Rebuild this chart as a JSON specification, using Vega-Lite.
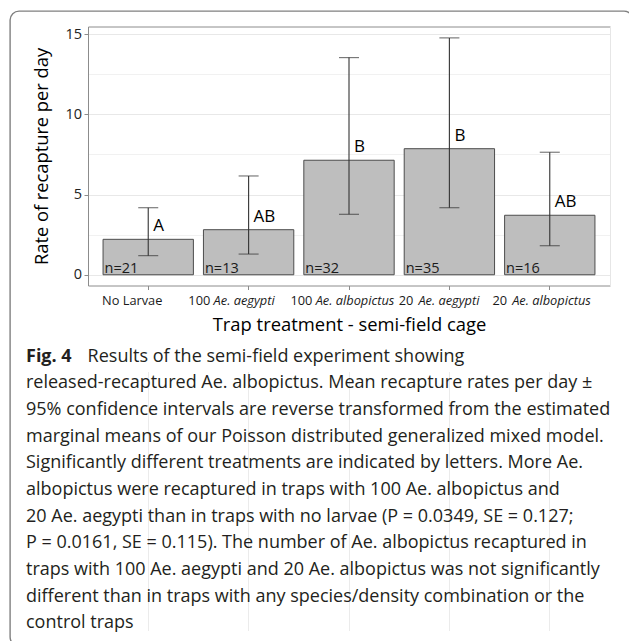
{
  "$schema": "https://vega.github.io/schema/vega-lite/v6.json",
  "width": 623,
  "height": 635,
  "autosize": {"type": "none"},
  "padding": {"left": 10, "top": 11, "right": -4, "bottom": -5},
  "background": "white",
  "config": {
    "view": {"stroke": "#808080", "strokeWidth": 1.4, "cornerRadius": 9, "fill": "white"},
    "font": "Open Sans",
    "axis": {"labelFont": "Open Sans", "titleFont": "Open Sans"}
  },
  "datasets": {
    "treatments": [
      {"treatment": "No Larvae", "mean": 2.21, "lower": 1.19, "upper": 4.18, "letter": "A", "n": "n=21"},
      {"treatment": "100 Ae. aegypti", "mean": 2.81, "lower": 1.29, "upper": 6.16, "letter": "AB", "n": "n=13"},
      {"treatment": "100 Ae. albopictus", "mean": 7.14, "lower": 3.77, "upper": 13.54, "letter": "B", "n": "n=32"},
      {"treatment": "20 Ae. aegypti", "mean": 7.86, "lower": 4.18, "upper": 14.77, "letter": "B", "n": "n=35"},
      {"treatment": "20 Ae. albopictus", "mean": 3.71, "lower": 1.81, "upper": 7.64, "letter": "AB", "n": "n=16"}
    ],
    "figlabel": [{"line": 1, "text": "Fig. 4"}],
    "caption": [
      {"line": 1, "text": "Results of the semi-field experiment showing"},
      {"line": 2, "text": "released-recaptured Ae. albopictus. Mean recapture rates per day ±"},
      {"line": 3, "text": "95% confidence intervals are reverse transformed from the estimated"},
      {"line": 4, "text": "marginal means of our Poisson distributed generalized mixed model."},
      {"line": 5, "text": "Significantly different treatments are indicated by letters. More Ae."},
      {"line": 6, "text": "albopictus were recaptured in traps with 100 Ae. albopictus and"},
      {"line": 7, "text": "20 Ae. aegypti than in traps with no larvae (P = 0.0349, SE = 0.127;"},
      {"line": 8, "text": "P = 0.0161, SE = 0.115). The number of Ae. albopictus recaptured in"},
      {"line": 9, "text": "traps with 100 Ae. aegypti and 20 Ae. albopictus was not significantly"},
      {"line": 10, "text": "different than in traps with any species/density combination or the"},
      {"line": 11, "text": "control traps"}
    ]
  },
  "layer": [
    {
      "data": {"name": "treatments"},
      "layer": [
        {
          "mark": {"type": "bar", "fill": "#bebebe", "stroke": "#4d4d4d", "strokeWidth": 1},
          "encoding": {
            "x": {
              "field": "treatment", "type": "nominal", "sort": null,
              "scale": {"range": [78, 600], "paddingInner": 0.1, "paddingOuter": 0.15},
              "axis": {
                "orient": "bottom", "offset": -360.5,
                "title": "Trap treatment - semi-field cage",
                "titleFontSize": 18.4, "titleFontWeight": "normal", "titleColor": "#000000", "titlePadding": 8,
                "domain": true, "domainColor": "#8c8c8c", "domainWidth": 1,
                "ticks": true, "tickColor": "#8c8c8c", "tickSize": 4, "tickWidth": 1,
                "bandPosition": 0.5,
                "grid": true, "gridColor": "#ebebeb", "gridWidth": 1,
                "labelExpr": "datum.value == 'No Larvae' ? datum.value : substring(datum.value, 0, indexof(datum.value, ' '))",
                "labelAlign": {"condition": {"test": "datum.value == 'No Larvae'", "value": "center"}, "value": "right"},
                "labelOffset": {"condition": [
                  {"test": "datum.value == 'No Larvae'", "value": -16},
                  {"test": "datum.value == '100 Ae. aegypti'", "value": -38.3},
                  {"test": "datum.value == '100 Ae. albopictus'", "value": -36.6},
                  {"test": "datum.value == '20 Ae. aegypti'", "value": -36}
                ], "value": -42.6},
                "labelFontSize": 12.8, "labelColor": "#1a1a1a", "labelPadding": 5, "labelAngle": 0,
                "labelOverlap": false, "labelBaseline": "top"
              }
            },
            "y": {
              "field": "mean", "type": "quantitative",
              "scale": {"domain": [-0.67, 15.48], "range": [274.5, 15.5], "nice": false, "zero": false},
              "axis": {
                "orient": "left", "offset": -78, "values": [0, 5, 10, 15],
                "title": "Rate of recapture per day",
                "titleFontSize": 18.3, "titleFontWeight": "normal", "titleColor": "#000000", "titlePadding": 13,
                "domain": true, "domainColor": "#8c8c8c", "domainWidth": 1,
                "ticks": true, "tickColor": "#8c8c8c", "tickSize": 4,
                "grid": true, "gridColor": "#e8e8e8", "gridWidth": 1,
                "labelFontSize": 14.5, "labelColor": "#222222", "labelPadding": 2.5
              }
            }
          }
        },
        {
          "mark": {"type": "rule", "color": "#333333", "strokeWidth": 1.1},
          "encoding": {
            "x": {
              "field": "treatment", "type": "nominal", "sort": null,
              "axis": {
                "orient": "bottom", "offset": -360.5, "title": null,
                "domain": false, "ticks": true, "tickOpacity": 0, "tickSize": 4, "grid": false,
                "bandPosition": 0.5,
                "labelExpr": "datum.value == 'No Larvae' ? '' : substring(datum.value, indexof(datum.value, ' ') + 1)",
                "labelFontStyle": "italic", "labelAlign": "left",
                "labelOffset": {"condition": [
                  {"test": "datum.value == '100 Ae. aegypti'", "value": -35},
                  {"test": "datum.value == '100 Ae. albopictus'", "value": -33.3},
                  {"test": "datum.value == '20 Ae. aegypti'", "value": -31}
                ], "value": -37.6},
                "labelFontSize": 12.8, "labelColor": "#1a1a1a", "labelPadding": 5, "labelAngle": 0,
                "labelOverlap": false, "labelBaseline": "top"
              }
            },
            "y": {
              "field": "lower", "type": "quantitative",
              "axis": {
                "orient": "left", "offset": -78, "values": [2.5, 7.5, 12.5],
                "grid": true, "gridColor": "#f1f1f1", "gridWidth": 1,
                "domain": false, "ticks": false, "labels": false, "title": null
              }
            },
            "y2": {"field": "upper"}
          }
        },
        {
          "mark": {"type": "tick", "orient": "horizontal", "size": 20, "thickness": 1.1, "color": "#333333"},
          "encoding": {
            "x": {
              "field": "treatment", "type": "nominal", "sort": null,
              "axis": {
                "orient": "top", "offset": -15.5, "title": null,
                "domain": true, "domainColor": "#8c8c8c", "domainWidth": 1,
                "ticks": false, "labels": false, "grid": false
              }
            },
            "y": {
              "field": "upper", "type": "quantitative",
              "axis": {
                "orient": "right", "offset": -23, "title": null,
                "domain": true, "domainColor": "#e6e6e6", "domainWidth": 1,
                "ticks": false, "labels": false, "grid": false
              }
            }
          }
        },
        {
          "mark": {"type": "tick", "orient": "horizontal", "size": 20, "thickness": 1.1, "color": "#333333"},
          "encoding": {
            "x": {"field": "treatment", "type": "nominal", "sort": null, "axis": null},
            "y": {"field": "lower", "type": "quantitative", "axis": null}
          }
        },
        {
          "mark": {"type": "text", "align": "left", "baseline": "alphabetic", "dx": 5, "dy": -8, "fontSize": 17, "font": "Open Sans", "color": "#000000"},
          "encoding": {
            "x": {"field": "treatment", "type": "nominal", "sort": null, "axis": null},
            "y": {"field": "mean", "type": "quantitative", "axis": null},
            "text": {"field": "letter"}
          }
        },
        {
          "mark": {"type": "text", "align": "left", "baseline": "alphabetic", "dx": 1.5, "dy": -2, "fontSize": 14.5, "font": "Open Sans", "color": "#1a1a1a"},
          "encoding": {
            "x": {"field": "treatment", "type": "nominal", "sort": null, "bandPosition": 0, "axis": null},
            "y": {"datum": 0, "type": "quantitative", "axis": null},
            "text": {"field": "n"}
          }
        }
      ],
      "resolve": {"axis": {"x": "independent", "y": "independent"}}
    },
    {
      "layer": [
        {
          "data": {"name": "figlabel"},
          "mark": {"type": "text", "align": "left", "baseline": "alphabetic", "font": "Open Sans", "fontSize": 18, "fontWeight": "bold", "color": "#231f20"},
          "encoding": {
            "x": {"value": 16},
            "y": {"field": "line", "type": "quantitative", "scale": {"domain": [1, 11], "range": [350.7, 617.3], "nice": false, "zero": false}, "axis": null},
            "text": {"field": "text"}
          }
        },
        {
          "data": {"name": "caption"},
          "transform": [{"filter": "datum.line == 1"}],
          "mark": {"type": "text", "align": "left", "baseline": "alphabetic", "dx": 61.6, "font": "Open Sans", "fontSize": 18, "color": "#231f20"},
          "encoding": {
            "x": {"value": 16},
            "y": {"field": "line", "type": "quantitative", "axis": null},
            "text": {"field": "text"}
          }
        },
        {
          "data": {"name": "caption"},
          "transform": [{"filter": "datum.line > 1"}],
          "mark": {"type": "text", "align": "left", "baseline": "alphabetic", "font": "Open Sans", "fontSize": 18, "color": "#231f20"},
          "encoding": {
            "x": {"value": 16},
            "y": {"field": "line", "type": "quantitative", "axis": null},
            "text": {"field": "text"}
          }
        }
      ]
    }
  ],
  "resolve": {"scale": {"y": "independent"}, "axis": {"y": "independent"}}
}
